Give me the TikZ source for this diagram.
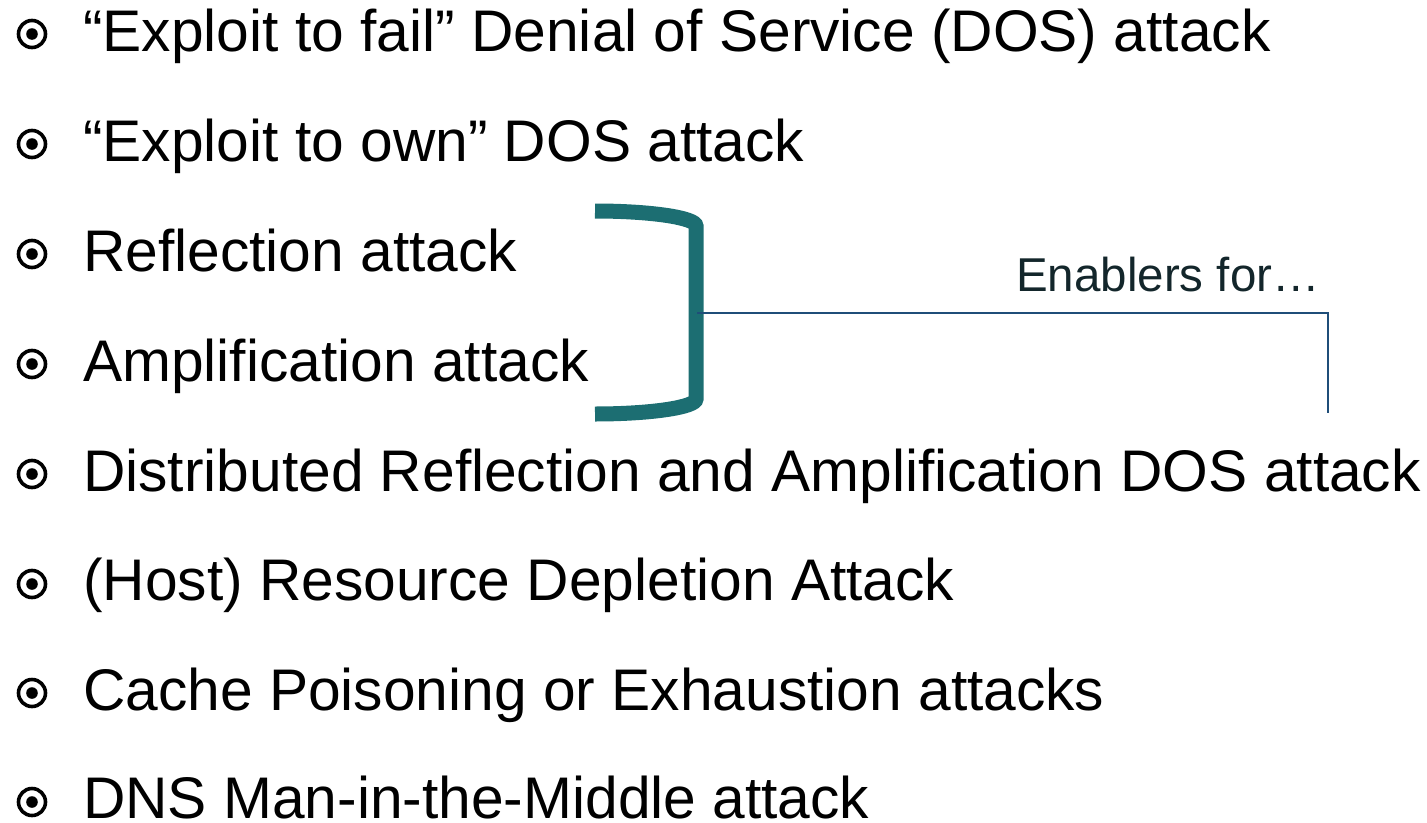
\documentclass[tikz,border=0pt]{standalone}
\usepackage{fontspec}
\setmainfont{Liberation Sans}
\usepackage{tikz}

\definecolor{brackteal}{HTML}{1C6E72}
\definecolor{linknavy}{HTML}{1F4E79}
\definecolor{notedark}{HTML}{13262B}

\begin{document}
\begin{tikzpicture}[x = 1pt, y = 1pt,
        item/.style = {anchor = base west, inner sep = 0pt, font = \fontsize{58.7}{60}\selectfont},
        bulletring/.style = {circle, draw, line width = 3.6pt, minimum size = 27pt, inner sep = 0pt,
            path picture = {\fill (path picture bounding box.center) circle(5.8pt);}},
        bracket/.style = {draw = brackteal, line width = 15pt},
        enabler/.style = {draw = linknavy, line width = 1.5pt}]
        \useasboundingbox (0,0) rectangle (1427,-822);
        
        \node[bulletring] (b1) at (32,-34) {};
        \node[bulletring] (b2) at (32,-144) {};
        \node[bulletring] (b3) at (32,-254) {};
        \node[bulletring] (b4) at (32,-364) {};
        \node[bulletring] (b5) at (32,-474) {};
        \node[bulletring] (b6) at (32,-584) {};
        \node[bulletring] (b7) at (32,-693) {};
        \node[bulletring] (b8) at (32,-802) {};
        
        \node[item] (fail) at (83,-51) {“Exploit to fail” Denial of Service (DOS) attack};
        \node[item] (own) at (83,-161) {“Exploit to own” DOS attack};
        \node[item] (refl) at (83,-271) {Reflection attack};
        \node[item] (ampl) at (83,-381) {Amplification attack};
        \node[item] (dist) at (83,-491) {Distributed Reflection and Amplification DOS attack};
        \node[item] (host) at (83,-600) {(Host) Resource Depletion Attack};
        \node[item] (cache) at (83,-710) {Cache Poisoning or Exhaustion attacks};
        \node[item] (mitm) at (83,-818) {DNS Man-in-the-Middle attack};
        
        % bracket round the two enablers
        \draw[bracket] (595,-211) arc[start angle = 90, end angle = 0, x radius = 101, y radius = 15]
            -- (696,-399) arc[start angle = 0, end angle = -90, x radius = 101, y radius = 15];
        
        \coordinate (brk) at (697,-313);
        \coordinate (tip) at (1328,-413);
        \draw[enabler] (brk) -| (tip);
        \node[anchor = base east, inner sep = 0pt, text = notedark, font = \fontsize{47.5}{49}\selectfont]
            (note) at (1320,-291) {Enablers for…};
    \end{tikzpicture}
\end{document}
